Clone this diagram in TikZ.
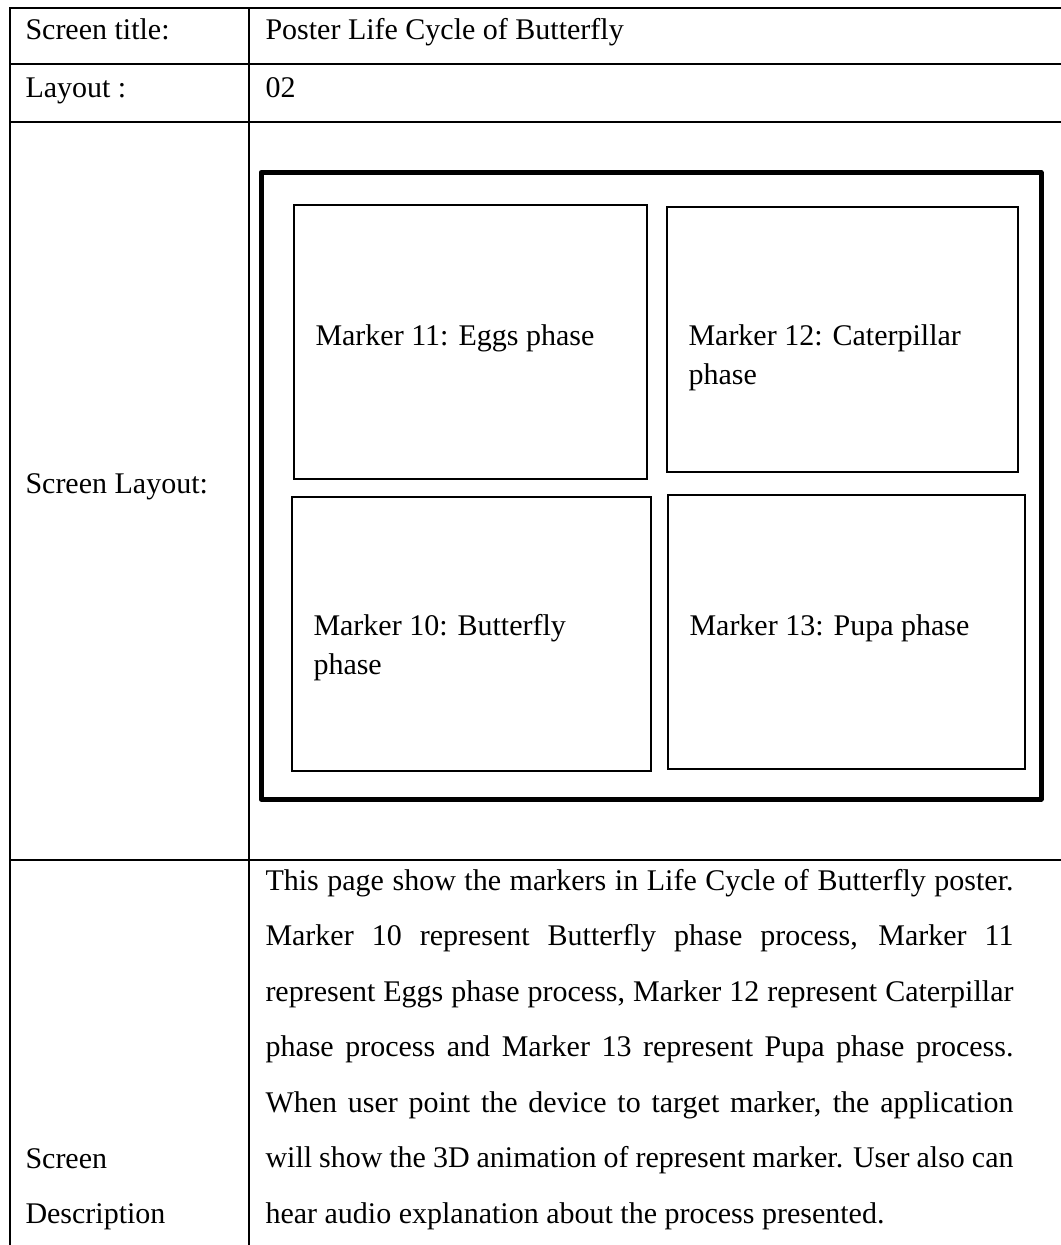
\documentclass[tikz,border=0pt]{standalone}
\usepackage{fontspec}
\setmainfont{Liberation Serif}
\usetikzlibrary{fit}
\begin{document}
\begin{tikzpicture}[x=0.4pt,y=-0.4pt,
  rule/.style={line width=0.8pt},
  frame/.style={draw, line width=2pt, inner sep=0pt, line join=round},
  markerbox/.style={draw, line width=0.55pt, inner sep=0pt},
  txt/.style={anchor=base west, inner sep=0pt, font=\fontsize{12pt}{15.5pt}\selectfont},
  twoline/.style={txt, anchor=north west, align=left},
  descline/.style={txt}]
\useasboundingbox (0,0) rectangle (1060,1245);

% table rules
\coordinate (tl) at (10,8);
\coordinate (colT) at (249,8);
\draw[rule] (10,1250) -- (tl) -- (1065,8);
\draw[rule] (colT) -- (249,1250);
\draw[rule] (10,64) -- (1065,64);
\draw[rule] (10,122) -- (1065,122);
\draw[rule] (10,860) -- (1065,860);

% left column labels
\node[txt] (l1) at (25,40) {Screen title:};
\node[txt] (l2) at (25,98) {Layout :};
\node[txt] (l3) at (25,493) {Screen Layout:};
\node[txt] (l4a) at (25,1168) {Screen};
\node[txt] (l4b) at (25,1223.5) {Description};

% right column values
\node[txt] (v1) at (265,40) {Poster Life Cycle of Butterfly};
\node[txt] (v2) at (265,98) {02};

% poster layout
\node[frame, fit={(261,172.5) (1041,799)}] (poster) {};
\node[markerbox, fit={(294,205) (647,479)}] (m11) {};
\node[markerbox, fit={(667,207) (1018,472)}] (m12) {};
\node[markerbox, fit={(292,497) (651,771)}] (m10) {};
\node[markerbox, fit={(668,495) (1025,769)}] (m13) {};
\node[txt] (t11) at (315,345) {Marker 11: Eggs phase};
\node[twoline] (t12) at (688,324) {Marker 12: Caterpillar\\phase};
\node[twoline] (t10) at (313,614) {Marker 10: Butterfly\\phase};
\node[txt] (t13) at (689,635) {Marker 13: Pupa phase};

% description, justified line by line
\node[descline] (d1) at (265,890) {\hbox to 299.2pt{This page show the markers in Life Cycle of Butterfly poster.}};
\node[descline] (d2) at (265,945.5) {\hbox to 299.2pt{Marker 10 represent Butterfly phase process, Marker 11}};
\node[descline] (d3) at (265,1001) {\hbox to 299.2pt{represent Eggs phase process, Marker 12 represent Caterpillar}};
\node[descline] (d4) at (265,1056.5) {\hbox to 299.2pt{phase process and Marker 13 represent Pupa phase process.}};
\node[descline] (d5) at (265,1112) {\hbox to 299.2pt{When user point the device to target marker, the application}};
\node[descline] (d6) at (265,1167.5) {\hbox to 299.2pt{will show the 3D animation of represent marker. User also can}};
\node[descline] (d7) at (265,1223) {hear audio explanation about the process presented.};
\end{tikzpicture}
\end{document}
